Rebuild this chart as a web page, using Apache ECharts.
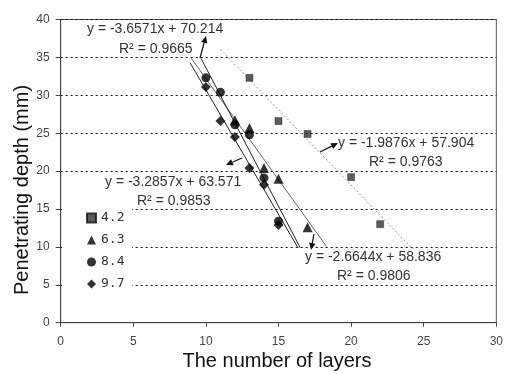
<!DOCTYPE html>
<html>
<head>
<meta charset="utf-8">
<script src="https://cdn.jsdelivr.net/npm/echarts@6/dist/echarts.min.js"></script>
<style>html,body{margin:0;padding:0;background:#fff}#c{width:506px;height:374px}</style>
</head>
<body>
<div id="c"></div>
<script>
// ---- data ----
var seriesNames = ['4.2', '6.3', '8.4', '9.7'];
var layers42 = [13, 15, 17, 20, 22];
var depth42  = [32.3, 26.6, 24.9, 19.2, 13.0];
var layers63 = [12, 13, 14, 15, 17];
var depth63  = [26.7, 25.7, 20.4, 19.0, 12.6];
var layers84 = [10, 11, 12, 13, 14, 15];
var depth84  = [32.3, 30.4, 26.1, 24.8, 19.1, 13.4];
var layers97 = [10, 11, 12, 13, 14, 15];
var depth97  = [31.1, 26.6, 24.5, 20.4, 18.2, 12.9];
// trend lines: slope, intercept, x-range
var trendSlope     = [-1.9876, -2.6644, -3.6571, -3.2857];
var trendIntercept = [57.904, 58.836, 70.214, 63.571];
var trendR2        = ['0.9763', '0.9806', '0.9665', '0.9853'];
var trendStart     = [11.0, 9.0, 9.66, 8.9];
var trendEnd       = [24.3, 18.3, 16.5, 16.35];
var xTicks = [0, 5, 10, 15, 20, 25, 30];
var yTicks = [0, 5, 10, 15, 20, 25, 30, 35, 40];

function pts(xs, ys){ return xs.map(function(x,i){ return [x, ys[i]]; }); }
function trend(i){
  return [trendStart[i], trendEnd[i]].map(function(x){ return [x, trendSlope[i]*x + trendIntercept[i]]; });
}
function eqText(i){
  return 'y = ' + trendSlope[i] + 'x + ' + trendIntercept[i].toFixed(3);
}

var chart = echarts.init(document.getElementById('c'), null, {renderer:'canvas'});
var font = 'Arial, "Liberation Sans", sans-serif';
var txtCol = '#333';

function arrow(x0, y0, x1, y1){
  var dx = x1-x0, dy = y1-y0, L = Math.sqrt(dx*dx+dy*dy);
  var ux = dx/L, uy = dy/L, hl = 7, hw = 3.2;
  var bx = x1 - ux*hl, by = y1 - uy*hl;
  return [
    {type:'line', z:20, shape:{x1:x0, y1:y0, x2:bx, y2:by}, style:{stroke:'#111', lineWidth:1.2}},
    {type:'polygon', z:20, shape:{points:[[x1,y1],[bx - uy*hw, by + ux*hw],[bx + uy*hw, by - ux*hw]]}, style:{fill:'#111'}}
  ];
}
function label(text, x, y){
  return {type:'text', z:20, x:x, y:y, style:{text:text, font:'14px ' + font, fill:txtCol, textVerticalAlign:'middle'}};
}

var graphics = [
  {type:'rect', z:3, shape:{x:62, y:204, width:70, height:88}, style:{fill:'#fff'}},
  label(eqText(2), 87, 29), label('R\u00b2 = ' + trendR2[2], 119, 49),
  label(eqText(0), 338, 143), label('R\u00b2 = ' + trendR2[0], 369, 162),
  label(eqText(3), 105, 182), label('R\u00b2 = ' + trendR2[3], 137, 201),
  label(eqText(1), 305, 257), label('R\u00b2 = ' + trendR2[1], 337, 276),
  {type:'text', z:20, x:277, y:361, style:{text:'The number of layers', font:'20px ' + font, fill:'#111', textAlign:'center', textVerticalAlign:'middle'}},
  {type:'text', z:20, x:22, y:190, rotation:Math.PI/2, style:{text:'Penetrating depth (mm)', font:'20px ' + font, fill:'#111', textAlign:'center', textVerticalAlign:'middle'}}
];
graphics = graphics.concat(arrow(200, 58, 206, 36), arrow(320, 152, 338, 143), arrow(242, 158, 226, 165), arrow(314, 234, 311, 250));

chart.setOption({
  animation:false,
  backgroundColor:'#fff',
  grid:{left:60.7, right:9, top:19.5, bottom:51.3, show:true, borderColor:'#555', borderWidth:1, backgroundColor:'transparent'},
  xAxis:{
    type:'value', min:xTicks[0], max:xTicks[xTicks.length-1], interval:5,
    axisLine:{show:true, lineStyle:{color:'#444'}},
    axisTick:{show:true, length:4, lineStyle:{color:'#444'}},
    axisLabel:{color:'#444', fontSize:12, fontFamily:font, margin:13},
    splitLine:{show:false}
  },
  yAxis:{
    type:'value', min:yTicks[0], max:yTicks[yTicks.length-1], interval:5,
    axisLine:{show:true, lineStyle:{color:'#444'}},
    axisTick:{show:true, length:5, lineStyle:{color:'#444'}},
    axisLabel:{color:'#444', fontSize:12, fontFamily:font, margin:11},
    splitLine:{show:true, lineStyle:{color:'#111', type:[2,3], width:1}}
  },
  legend:{
    data:seriesNames, orient:'vertical', left:86, top:211, z:6,
    itemWidth:9, itemHeight:9, itemGap:8, padding:0,
    textStyle:{fontFamily:'"DejaVu Sans Mono", monospace', fontSize:13, color:'#333', lineHeight:14}
  },
  graphic:graphics,
  series:[
    {type:'line', data:trend(0), symbol:'none', z:2, silent:true, lineStyle:{color:'#999', width:1, type:[2,2]}},
    {type:'line', data:trend(1), symbol:'none', z:2, silent:true, lineStyle:{color:'#666', width:1}},
    {type:'line', data:trend(2), symbol:'none', z:2, silent:true, lineStyle:{color:'#222', width:1}},
    {type:'line', data:trend(3), symbol:'none', z:2, silent:true, lineStyle:{color:'#222', width:1}},
    {type:'scatter', z:5, name:seriesNames[0], data:pts(layers42, depth42), symbol:'rect', symbolSize:7, itemStyle:{color:'#333', borderColor:'#111', borderWidth:0.5}},
    {type:'scatter', z:5, name:seriesNames[1], data:pts(layers63, depth63), symbol:'triangle', symbolSize:10, itemStyle:{color:'#000'}},
    {type:'scatter', z:5, name:seriesNames[2], data:pts(layers84, depth84), symbol:'circle', symbolSize:9, itemStyle:{color:'#000'}},
    {type:'scatter', z:5, name:seriesNames[3], data:pts(layers97, depth97), symbol:'diamond', symbolSize:10, itemStyle:{color:'#000'}}
  ]
});
</script>
</body>
</html>
